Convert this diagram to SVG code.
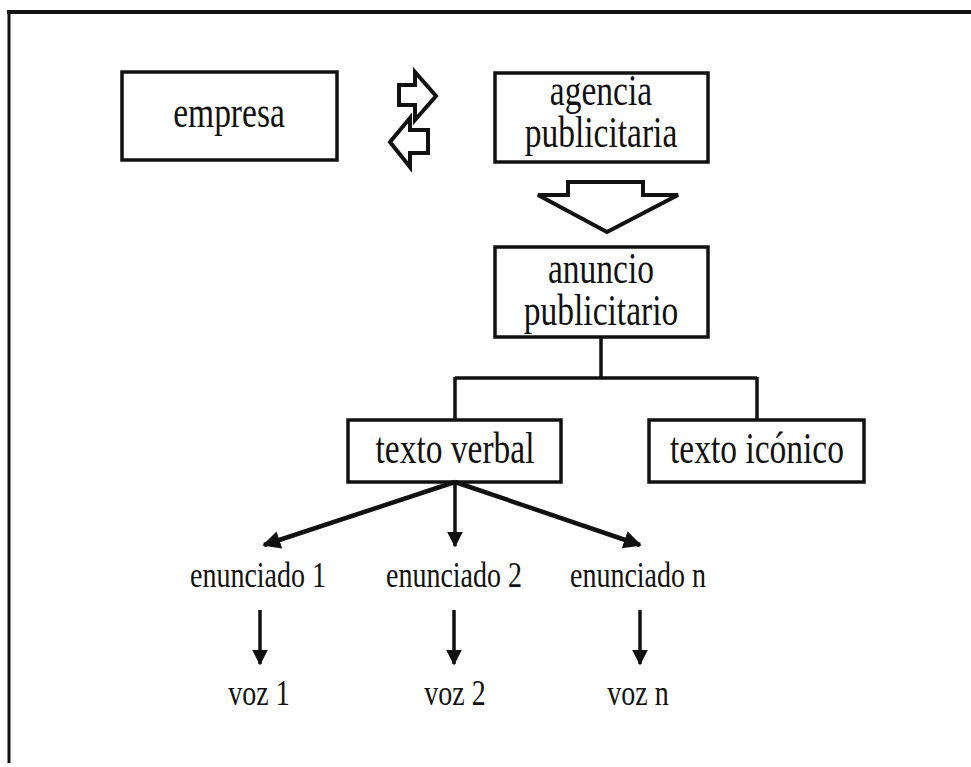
<svg xmlns="http://www.w3.org/2000/svg" width="971" height="767" viewBox="0 0 971 767">
<defs>
<style>
.box{fill:#fff;stroke:#111;stroke-width:3.5}
.t{font-family:"Liberation Serif","Times New Roman",serif;font-size:33.5px;fill:#111;text-anchor:middle}
.s{font-family:"Liberation Serif","Times New Roman",serif;font-size:28px;fill:#111;text-anchor:middle}
.ln{stroke:#111;stroke-width:3.5;fill:none}
.dg{stroke:#111;stroke-width:4.5;fill:none}
.ar{fill:#fff;stroke:#111;stroke-width:4;stroke-linejoin:miter}
</style>
<marker id="ah" viewBox="0 0 10 10" refX="9" refY="5" markerWidth="4" markerHeight="4" orient="auto" markerUnits="strokeWidth">
<path d="M0,0 L10,5 L0,10 z" fill="#111"/>
</marker>
<marker id="ah2" viewBox="0 0 10 10" refX="9" refY="5" markerWidth="4.5" markerHeight="4.5" orient="auto" markerUnits="strokeWidth">
<path d="M0,0 L10,5 L0,10 z" fill="#111"/>
</marker>
</defs>
<rect width="971" height="767" fill="#fff"/>
<g id="frame">
<line x1="7" y1="12" x2="971" y2="12" stroke="#111" stroke-width="4"/>
<line x1="9" y1="11" x2="9" y2="763" stroke="#111" stroke-width="3"/>
</g>
<g id="empresa">
<rect class="box" x="122" y="72" width="215" height="88"/>
<text class="t" transform="matrix(1,0,0,1.3,229,127)">empresa</text>
</g>
<g id="agencia">
<rect class="box" x="495" y="73" width="213" height="89"/>
<text class="t" transform="matrix(1,0,0,1.3,601,105)">agencia</text>
<text class="t" transform="matrix(1,0,0,1.3,601,147)">publicitaria</text>
</g>
<g id="anuncio">
<rect class="box" x="495" y="247" width="213" height="90"/>
<text class="t" transform="matrix(1,0,0,1.3,601,283)">anuncio</text>
<text class="t" transform="matrix(1,0,0,1.3,601,325)">publicitario</text>
</g>
<g id="texto-verbal">
<rect class="box" x="348" y="420" width="213" height="62"/>
<text class="t" transform="matrix(1,0,0,1.3,455,463)">texto verbal</text>
</g>
<g id="texto-iconico">
<rect class="box" x="649" y="420" width="215" height="62"/>
<text class="t" transform="matrix(1,0,0,1.3,757,463)">texto icónico</text>
</g>
<g id="enunciado-1"><text class="s" transform="matrix(1,0,0,1.3,258,587)">enunciado 1</text></g>
<g id="enunciado-2"><text class="s" transform="matrix(1,0,0,1.3,454,587)">enunciado 2</text></g>
<g id="enunciado-n"><text class="s" transform="matrix(1,0,0,1.3,638,587)">enunciado n</text></g>
<g id="voz-1"><text class="s" transform="matrix(1,0,0,1.3,259,705)">voz 1</text></g>
<g id="voz-2"><text class="s" transform="matrix(1,0,0,1.3,455,705)">voz 2</text></g>
<g id="voz-n"><text class="s" transform="matrix(1,0,0,1.3,638,705)">voz n</text></g>
<g id="connectors">
<polygon class="ar" points="399,85 415,85 415,72 436,96 415,120 415,105 399,105"/>
<polygon class="ar" points="428,130 410,130 410,118 390,142 410,167 410,153 428,153"/>
<polygon class="ar" stroke-width="5" points="568,182 643,182 643,195 678,195 607,232 538,195 568,195"/>
<path class="ln" d="M601,337 V378 M455,378 H757 M455,377 V420 M757,377 V420"/>
<line class="dg" x1="455" y1="482" x2="264" y2="545" marker-end="url(#ah)"/>
<line class="ln" x1="455" y1="482" x2="455" y2="546" marker-end="url(#ah2)"/>
<line class="dg" x1="455" y1="482" x2="640" y2="545" marker-end="url(#ah)"/>
<line class="ln" x1="260" y1="610" x2="260" y2="664" marker-end="url(#ah2)"/>
<line class="ln" x1="454" y1="610" x2="454" y2="664" marker-end="url(#ah2)"/>
<line class="ln" x1="640" y1="610" x2="640" y2="664" marker-end="url(#ah2)"/>
</g>
</svg>
